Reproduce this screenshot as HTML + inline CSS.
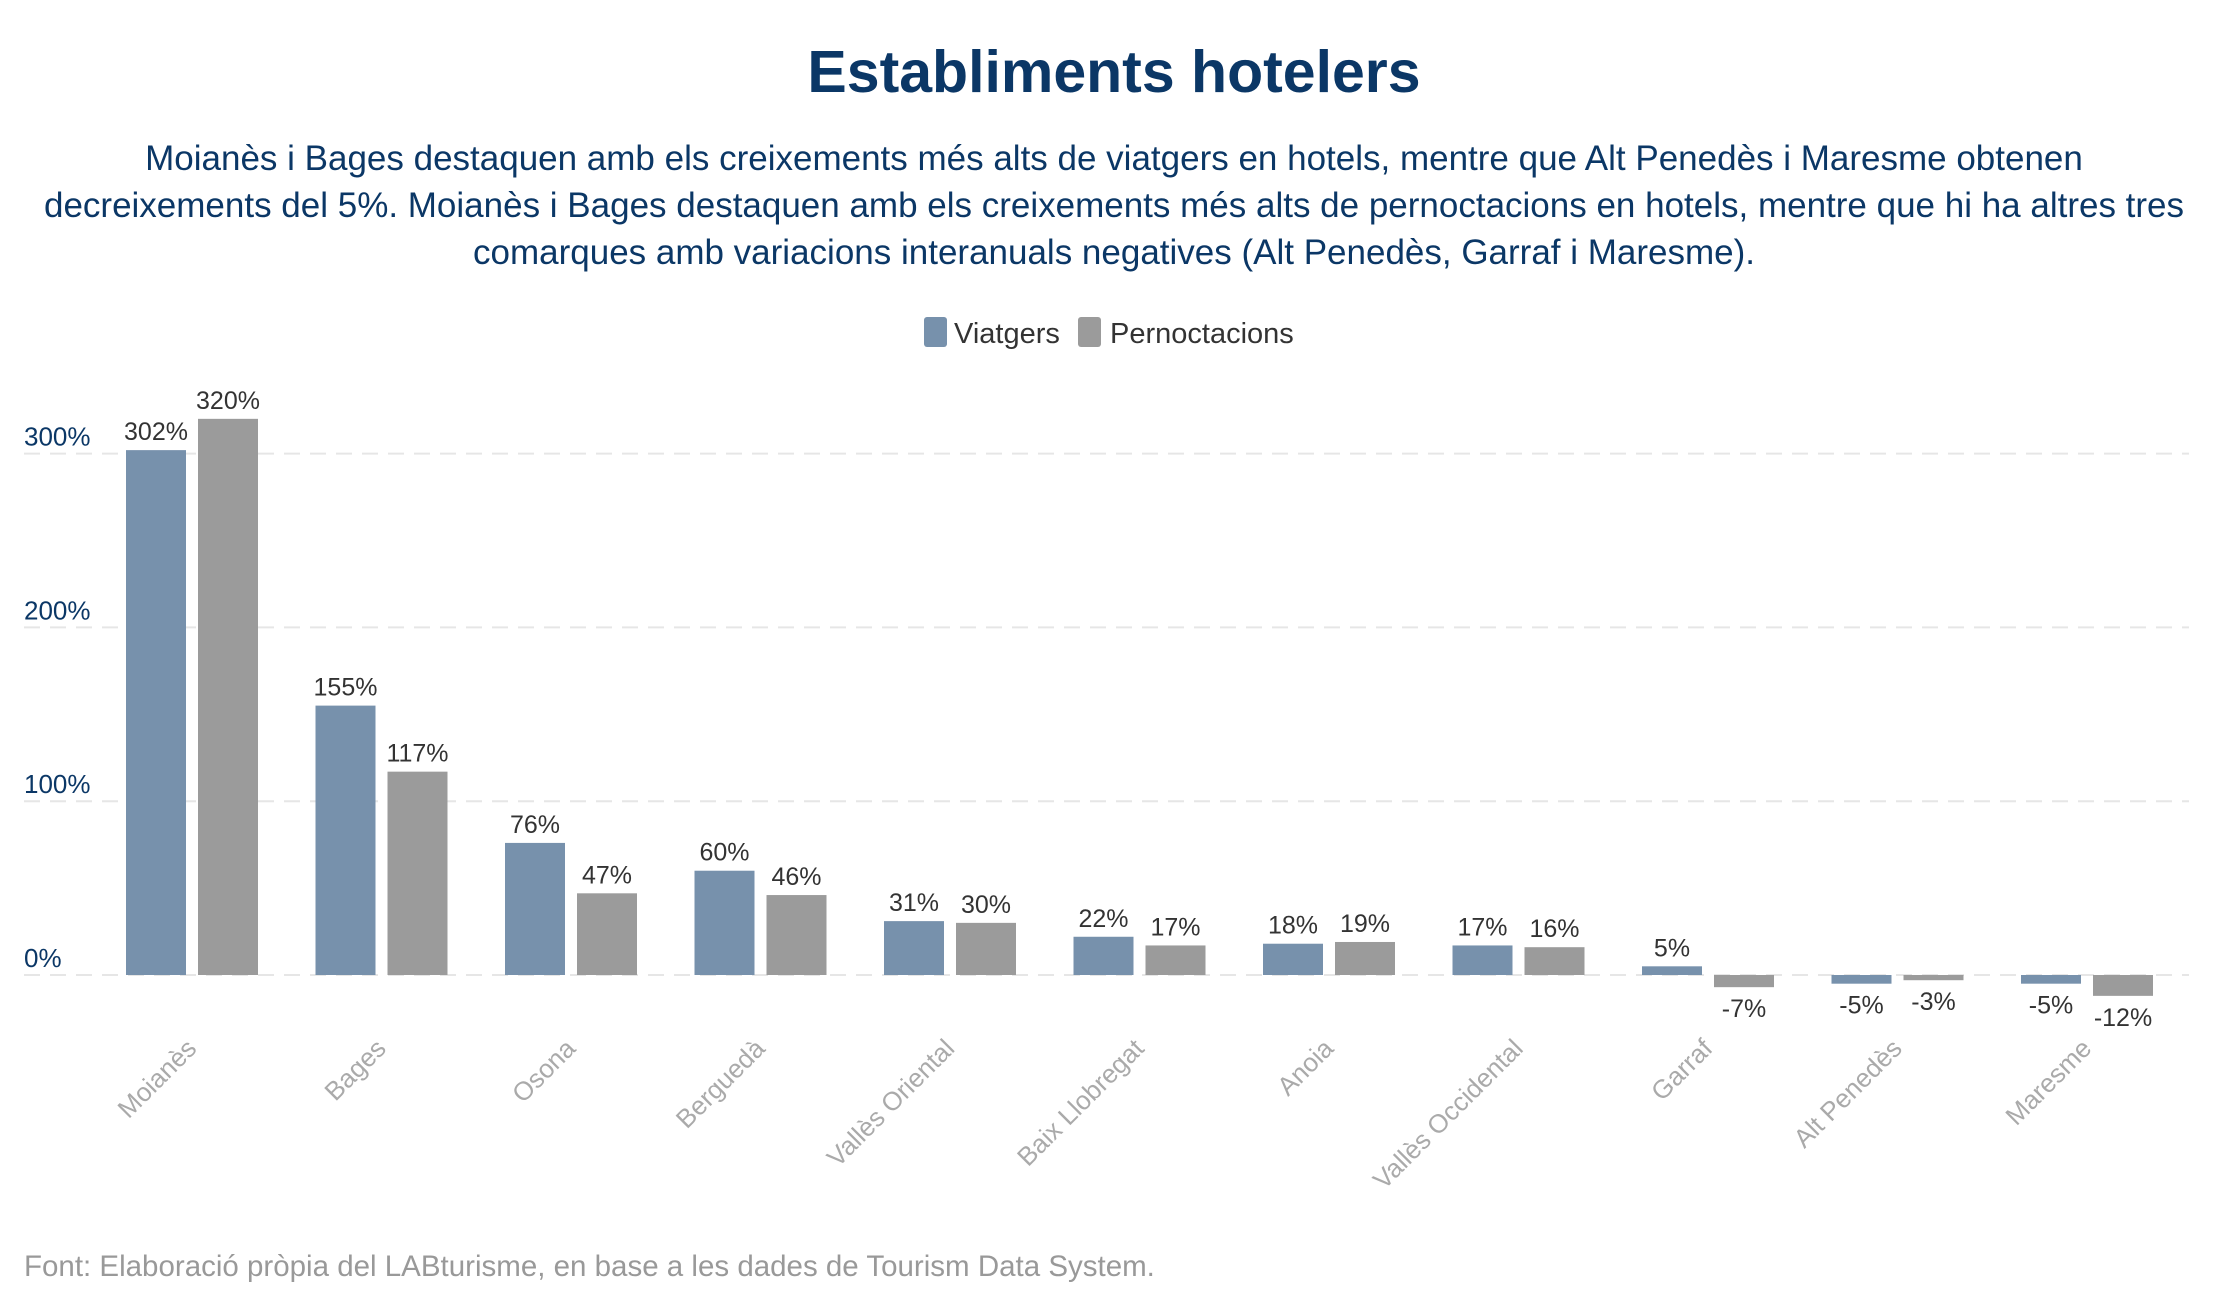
<!DOCTYPE html>
<html><head><meta charset="utf-8">
<style>
body{margin:0;background:#fff;width:2228px;height:1300px;overflow:hidden;font-family:"Liberation Sans",sans-serif;}
.t{position:absolute;left:0;width:2228px;text-align:center;}
</style></head>
<body>
<div class="t" style="top:38px;font-size:59px;font-weight:bold;color:#0b3766;">Establiments hotelers</div>
<div class="t" style="top:135px;font-size:35px;line-height:47px;color:#0b3766;">Moianès i Bages destaquen amb els creixements més alts de viatgers en hotels, mentre que Alt Penedès i Maresme obtenen<br>decreixements del 5%. Moianès i Bages destaquen amb els creixements més alts de pernoctacions en hotels, mentre que hi ha altres tres<br>comarques amb variacions interanuals negatives (Alt Penedès, Garraf i Maresme).</div>
<svg id="c" width="2228" height="1300" style="position:absolute;left:0;top:0">
<g>
<rect x="924" y="317" width="23" height="30" rx="3" fill="#7791ac"/>
<text x="954" y="343" font-size="29" fill="#333">Viatgers</text>
<rect x="1078" y="317" width="23" height="30" rx="3" fill="#9b9b9b"/>
<text x="1110" y="343" font-size="29" fill="#333">Pernoctacions</text>
</g>
</svg>
<div style="position:absolute;left:24px;top:1250px;font-size:29.5px;color:#999;">Font: Elaboració pròpia del LABturisme, en base a les dades de Tourism Data System.</div>
<script>
const categories=["Moianès","Bages","Osona","Berguedà","Vallès Oriental","Baix Llobregat","Anoia","Vallès Occidental","Garraf","Alt Penedès","Maresme"];
const viatgers=[302,155,76,60,31,22,18,17,5,-5,-5];
const pernoctacions=[320,117,47,46,30,17,19,16,-7,-3,-12];
const yTicks=[0,100,200,300];
const NS="http://www.w3.org/2000/svg";
const svg=document.getElementById('c');
const y0=975, per=173.8;
function y(v){return y0-v*per/100;}
function xc(i){return 192+i*189.5;}
function mk(t,a){const e=document.createElementNS(NS,t);for(const k in a)e.setAttribute(k,a[k]);svg.appendChild(e);return e;}
yTicks.forEach(v=>{
  const l=mk('line',{x1:24,x2:2189,y1:y(v),y2:y(v),stroke:'#e6e6e6','stroke-width':2,'stroke-dasharray':'16,10'});
  
  
  const t=mk('text',{x:24,y:y(v)-8,'font-size':26,fill:'#0b3766'});
  t.textContent=v+'%';
  
  
});
function bars(vals,off,color,name){
  vals.forEach((v,i)=>{
    const x=xc(i)+off;
    const top=Math.min(y(v),y(0)), h=Math.abs(y(v)-y(0));
    const r=mk('rect',{x:x,y:top,width:60,height:h,fill:color});
    
    
    const t=mk('text',{x:x+30,y:v>=0?top-10:top+h+30,'font-size':25,fill:'#333','text-anchor':'middle'});
    t.textContent=v+'%';
    
    
  });
}
bars(viatgers,-66,'#7791ac','viatgers');
bars(pernoctacions,6,'#9b9b9b','pernoctacions');
categories.forEach((c,i)=>{
  const x=xc(i)+6,yy=1050;
  const t=mk('text',{x:x,y:yy,'font-size':26,fill:'#aaa','text-anchor':'end',transform:`rotate(-45 ${x} ${yy})`});
  t.textContent=c;
  
  
});
</script>
</body></html>
